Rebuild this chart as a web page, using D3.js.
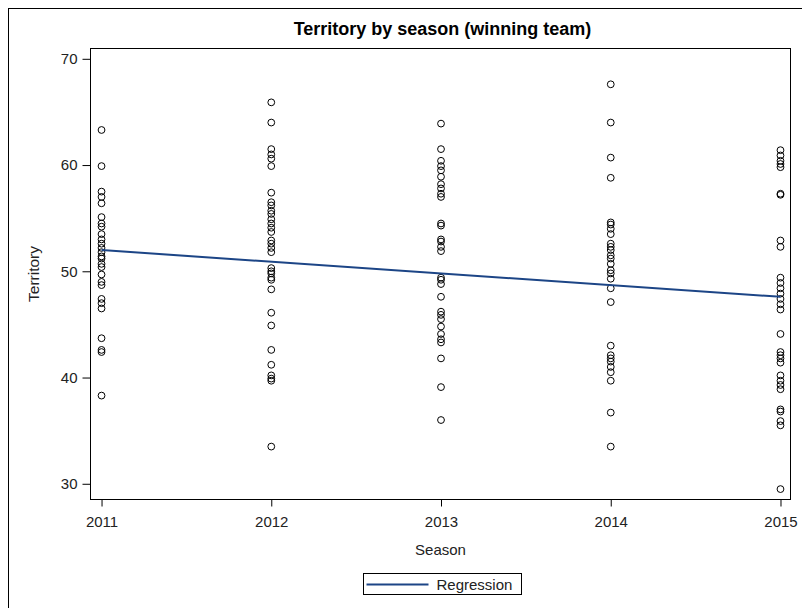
<!DOCTYPE html>
<html>
<head>
<meta charset="utf-8">
<script src="https://cdn.jsdelivr.net/npm/d3@7"></script>
<style>
  html, body { margin: 0; padding: 0; background: #fff; }
  svg { display: block; font-family: "Liberation Sans", Arial, sans-serif; }
</style>
</head>
<body>
<svg id="chart" width="802" height="608"></svg>
<script>
// Seasons on the x axis
const seasons = [2011, 2012, 2013, 2014, 2015];

// Territory (%) of the winning team, one array per season
const territory2011 = [63.3, 59.9, 57.5, 57.0, 56.4, 55.1, 54.5, 54.2, 53.5, 53.0, 52.6, 52.2, 51.8, 51.4,
  51.2, 50.7, 50.4, 49.7, 49.0, 48.7, 47.4, 47.0, 46.5, 43.7, 42.6, 42.4, 38.3];
const territory2012 = [65.9, 64.0, 61.5, 61.0, 60.6, 59.9, 57.4, 56.5, 56.2, 55.7, 55.4, 54.9, 54.5, 54.1,
  53.7, 52.9, 52.6, 52.2, 51.8, 50.3, 50.0, 49.8, 49.4, 49.2, 48.3, 46.1, 44.9, 42.6, 41.2, 40.2, 39.9, 39.7, 33.5];
const territory2013 = [63.9, 61.5, 60.4, 59.9, 59.5, 58.9, 58.2, 57.8, 57.3, 57.0, 54.5, 54.3, 53.0, 52.8,
  52.3, 51.9, 49.4, 49.2, 48.8, 47.6, 46.2, 45.9, 45.5, 44.8, 44.1, 43.6, 43.3, 41.8, 39.1, 36.0];
const territory2014 = [67.6, 64.0, 60.7, 58.8, 54.6, 54.4, 54.0, 53.5, 52.6, 52.3, 52.0, 51.5, 51.2, 50.7,
  50.1, 49.8, 49.3, 48.4, 47.1, 43.0, 42.1, 41.8, 41.5, 41.0, 40.5, 39.7, 36.7, 33.5];
const territory2015 = [61.4, 60.9, 60.4, 60.1, 59.8, 57.3, 57.2, 52.9, 52.3, 49.4, 48.9, 48.4, 47.9, 47.4,
  46.9, 46.4, 44.1, 42.4, 42.1, 41.8, 41.4, 40.2, 39.7, 39.3, 38.9, 37.0, 36.8, 35.9, 35.5, 29.5];

// Fitted regression line at the first and last season
const regressionSeasons = [2011, 2015];
const regressionValues = [52.0, 47.6];

// Axis ticks
const yTicks = [30, 40, 50, 60, 70];
const xTicks = seasons;

const seriesBySeason = [territory2011, territory2012, territory2013, territory2014, territory2015];
const points = [];
seasons.forEach((s, i) => seriesBySeason[i].forEach(v => points.push({ season: s, value: v })));

const svg = d3.select("#chart");
const plot = { left: 90.5, right: 790.5, top: 48.5, bottom: 499.5 };

const x = d3.scaleLinear().domain([2010.935, 2015.059]).range([plot.left, plot.right]);
const y = d3.scaleLinear().domain([28.52, 70.97]).range([plot.bottom, plot.top]);

// Outer border of the graph
svg.append("rect")
  .attr("x", 8.5).attr("y", 8.5)
  .attr("width", 820).attr("height", 620)
  .attr("fill", "none").attr("stroke", "#000").attr("stroke-width", 1);

// Title
svg.append("text")
  .attr("x", (plot.left + plot.right) / 2 + 2).attr("y", 35)
  .attr("text-anchor", "middle")
  .attr("font-size", 18).attr("font-weight", "bold").attr("fill", "#000")
  .text("Territory by season (winning team)");

// Axes
const yAxis = svg.append("g")
  .attr("transform", `translate(${plot.left},0)`)
  .call(d3.axisLeft(y).tickValues(yTicks).tickSize(8).tickPadding(5).tickFormat(d3.format("d")));
const xAxis = svg.append("g")
  .attr("transform", `translate(0,${plot.bottom})`)
  .call(d3.axisBottom(x).tickValues(xTicks).tickSize(7).tickPadding(10).tickFormat(d3.format("d")));

[yAxis, xAxis].forEach(g => {
  g.select(".domain").remove();
  g.selectAll(".tick line").attr("stroke", "#000");
  g.selectAll(".tick text")
    .attr("font-family", "Liberation Sans, Arial, sans-serif")
    .attr("font-size", 15).attr("fill", "#222");
});

// Axis labels
svg.append("text")
  .attr("x", (plot.left + plot.right) / 2).attr("y", 555)
  .attr("text-anchor", "middle").attr("font-size", 15).attr("fill", "#222")
  .text("Season");
svg.append("text")
  .attr("transform", `translate(39,${(plot.top + plot.bottom) / 2}) rotate(-90)`)
  .attr("text-anchor", "middle").attr("font-size", 15.5).attr("fill", "#222")
  .text("Territory");

// Scatter markers
svg.append("g")
  .selectAll("circle")
  .data(points)
  .join("circle")
  .attr("cx", d => x(d.season))
  .attr("cy", d => y(d.value))
  .attr("r", 3.4)
  .attr("fill", "none")
  .attr("stroke", "#000")
  .attr("stroke-width", 1);

// Regression line
const line = d3.line().x(d => x(d[0])).y(d => y(d[1]));
svg.append("path")
  .datum(regressionSeasons.map((s, i) => [s, regressionValues[i]]))
  .attr("d", line)
  .attr("fill", "none")
  .attr("stroke", "#1c4586")
  .attr("stroke-width", 2);

// Plot frame
svg.append("rect")
  .attr("x", plot.left).attr("y", plot.top)
  .attr("width", plot.right - plot.left).attr("height", plot.bottom - plot.top)
  .attr("fill", "none").attr("stroke", "#000").attr("stroke-width", 1);

// Legend
const legend = svg.append("g").attr("transform", "translate(363.5,573.5)");
legend.append("rect")
  .attr("width", 158).attr("height", 21)
  .attr("fill", "#fff").attr("stroke", "#000").attr("stroke-width", 1);
legend.append("line")
  .attr("x1", 3).attr("x2", 65).attr("y1", 11).attr("y2", 11)
  .attr("stroke", "#1c4586").attr("stroke-width", 2);
legend.append("text")
  .attr("x", 73).attr("y", 16)
  .attr("font-size", 15).attr("fill", "#222")
  .text("Regression");
</script>
</body>
</html>
